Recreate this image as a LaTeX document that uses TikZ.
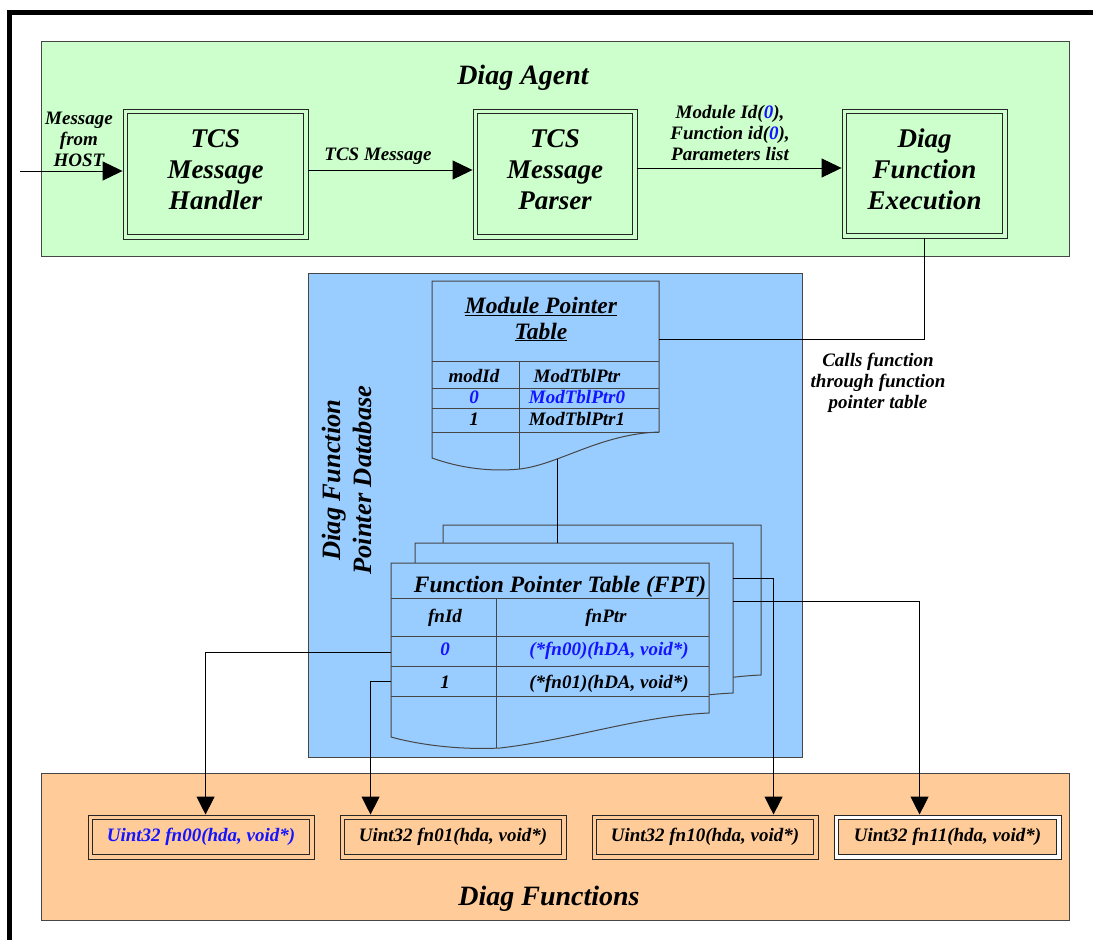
\documentclass[tikz,border=0pt]{standalone}
\usepackage{fontspec}
\setmainfont{Liberation Serif}
\usetikzlibrary{arrows.meta}
\definecolor{agentgreen}{RGB}{204,255,204}
\definecolor{dbblue}{RGB}{153,204,255}
\definecolor{fnorange}{RGB}{255,204,153}
\definecolor{hilite}{RGB}{20,20,255}
\definecolor{edge}{RGB}{70,70,70}

\begin{document}
\begin{tikzpicture}[x=1pt,y=-1pt,
  every node/.style={font=\bfseries\itshape, inner sep=0pt},
  container/.style={draw=edge, line width=1.3pt, anchor=north west},
  % box with a second, inner border line
  twoline/.style={draw=black!85, line width=0.9pt,
    path picture={\draw[black!85, line width=0.9pt, fill=#1]
      ([shift={(4.6,4.6)}]path picture bounding box.north west) rectangle
      ([shift={(-4.6,-4.6)}]path picture bounding box.south east);}},
  procbox/.style={twoline=agentgreen, fill=agentgreen, align=center,
    font=\fontsize{27}{31}\selectfont\bfseries\itshape},
  fnbox/.style={twoline=fnorange, fill=fnorange,
    minimum width=226pt, minimum height=44pt,
    font=\fontsize{19}{22}\selectfont\bfseries\itshape},
  bigtitle/.style={font=\fontsize{28}{32}\selectfont\bfseries\itshape, anchor=base},
  label/.style={font=\fontsize{19}{21}\selectfont\bfseries\itshape, align=center},
  cell/.style={font=\fontsize{19}{21}\selectfont\bfseries\itshape, anchor=base},
  sheet/.style={draw=edge, line width=1pt, fill=dbblue},
  grid/.style={draw=edge, line width=1pt},
  link/.style={draw=black, line width=0.9pt},
  arr/.style={link, -{Triangle[length=20pt,width=19pt]}},
  darr/.style={link, -{Triangle[length=18pt,width=18pt]}}
]
\useasboundingbox (0,0) rectangle (1093,940);

% heavy outer frame
\draw[line width=5pt] (9.5,950) -- (9.5,12) -- (1100,12);

% the three areas
\node[container, fill=agentgreen, minimum width=1028pt, minimum height=215pt] (agent) at (41,41) {};
\node[container, fill=dbblue, minimum width=494pt, minimum height=484pt] (db) at (308,273) {};
\node[container, fill=fnorange, minimum width=1028pt, minimum height=147pt] (funcs) at (41,773) {};

\node[bigtitle] (agent-title) at (523,84) {Diag Agent};
\node[bigtitle] (funcs-title) at (549,905) {Diag Functions};
\node[rotate=90, align=center, font=\fontsize{26.5}{31}\selectfont\bfseries\itshape]
  (db-title) at (346.5,480) {Diag Function\\Pointer Database};

% agent processing stages
\node[procbox, minimum width=185pt, minimum height=130pt] (handler) at (215.5,174) {TCS\\Message\\Handler\strut};
\node[procbox, minimum width=164pt, minimum height=130pt] (parser) at (555,174) {TCS\\Message\\Parser\strut};
\node[procbox, minimum width=165pt, minimum height=129pt] (exec) at (924.5,173.5) {Diag\\Function\\Execution\strut};

\coordinate (host) at (20,171);
\draw[arr] (host) -- (host -| handler.west);
\node[label] (host-label) at (79,139) {Message\\from\\HOST};

\draw[arr] ([yshift=4pt]handler.east) coordinate (m1) -- (m1 -| parser.west);
\node[label, anchor=base] (msg-label) at (378,160) {TCS Message};

\draw[arr] ([yshift=6pt]parser.east) coordinate (p1) -- (p1 -| exec.west);
\node[label] (param-label) at (730,133) {Module Id(\textcolor{hilite}{0}),\\Function id(\textcolor{hilite}{0}),\\Parameters list};

% module pointer table
\draw[sheet] (432,281) -- (659,281) -- (659,432)
  .. controls (600,434) and (560,464) .. (520,469)
  .. controls (490,472) and (460,468) .. (432,458) -- cycle;
\draw[grid] (432,361) -- (659,361) (432,388) -- (659,388)
  (432,408) -- (659,408) (432,432) -- (659,432) (519,361) -- (519,469);
\node[align=center, font=\fontsize{23.5}{26}\selectfont\bfseries\itshape]
  (mpt-title) at (541,319) {\underline{Module Pointer}\\\underline{Table}};
\node[cell] (mpt-h1) at (474,382) {modId};
\node[cell] (mpt-h2) at (577,382) {ModTblPtr};
\node[cell, text=hilite] (mpt-a1) at (474,403) {0};
\node[cell, text=hilite] (mpt-a2) at (577,403) {ModTblPtr0};
\node[cell] (mpt-b1) at (474,425) {1};
\node[cell] (mpt-b2) at (577,425) {ModTblPtr1};
\coordinate (mptR) at (659,339);
\coordinate (mptB) at (557,459);

% stacked function pointer tables
\foreach \dx/\dy in {52/-38, 24/-20, 0/0}
  \draw[sheet, shift={(\dx,\dy)}] (391,563) -- (709,563) -- (709,713)
    .. controls (640,716) and (570,740) .. (500,748)
    .. controls (460,750) and (420,745) .. (391,737) -- cycle;
\draw[grid] (391,598) -- (709,598) (391,636) -- (709,636)
  (391,666) -- (709,666) (391,696) -- (709,696) (496,598) -- (496,748);
\node[anchor=base, font=\fontsize{23.5}{26}\selectfont\bfseries\itshape]
  (fpt-title) at (560,592) {Function Pointer Table (FPT)};
\node[cell] (fpt-h1) at (445,622) {fnId};
\node[cell] (fpt-h2) at (606,622) {fnPtr};
\node[cell, text=hilite] (fpt-a1) at (445,655) {0};
\node[cell, text=hilite] (fpt-a2) at (609,655) {(*fn00)(hDA, void*)};
\node[cell] (fpt-b1) at (445,688) {1};
\node[cell] (fpt-b2) at (609,688) {(*fn01)(hDA, void*)};
\coordinate (fpt0) at (391,652);
\coordinate (fpt1) at (391,681);
\coordinate (fptA) at (733,578);
\coordinate (fptB) at (733,601);
\coordinate (midtop) at (441,543);

% diag functions
\node[fnbox, text=hilite] (fn00) at (201,837) {Uint32 fn00(hda, void*)};
\node[fnbox] (fn01) at (453,837) {Uint32 fn01(hda, void*)};
\node[fnbox] (fn10) at (705,837) {Uint32 fn10(hda, void*)};
\node[fnbox, fill=white, minimum width=227pt] (fn11) at (947.5,837) {Uint32 fn11(hda, void*)};

% call path through the tables
\draw[link] (exec.south) |- (mptR);
\node[label] (call-label) at (878,383) {Calls function\\through function\\pointer table};
\draw[link] (mptB) -- (mptB |- midtop);
\draw[darr] (fpt0) -| ([xshift=118pt]fn00.north west);
\draw[darr] (fpt1) -| ([xshift=31pt]fn01.north west);
\draw[darr] (fptA) -| ([xshift=182pt]fn10.north west);
\draw[darr] (fptB) -| ([xshift=86pt]fn11.north west);
\end{tikzpicture}
\end{document}
